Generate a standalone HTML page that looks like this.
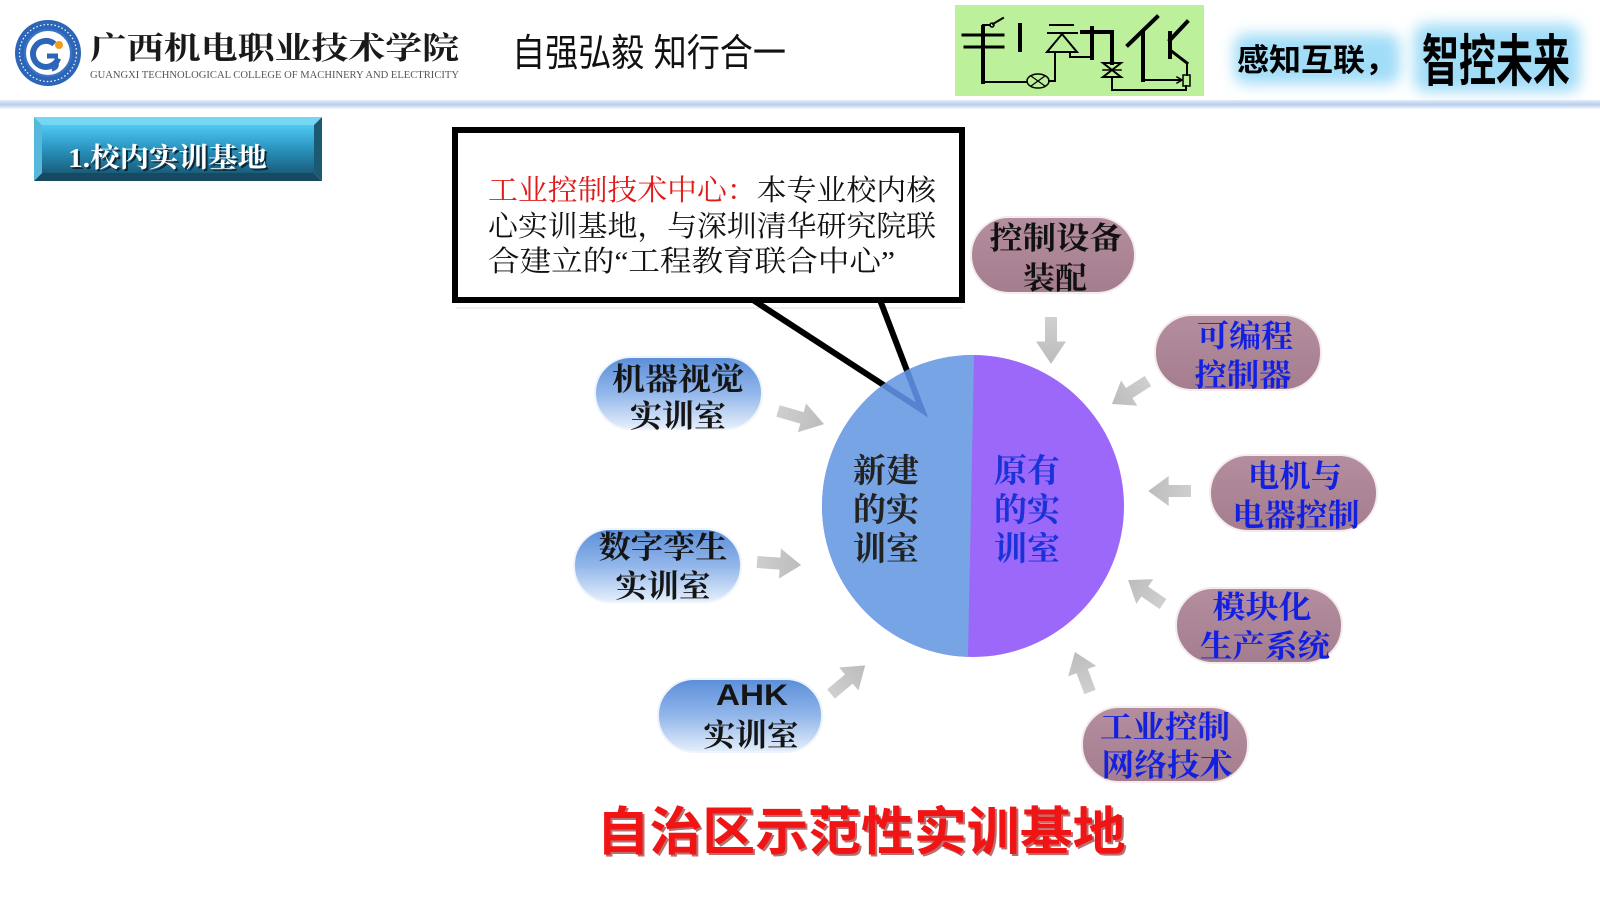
<!DOCTYPE html>
<html><head><meta charset="utf-8">
<style>
html,body{margin:0;padding:0;background:#fff;}
svg{display:block;}
.serif{font-family:"Liberation Serif","Noto Serif CJK SC",serif;}
.sans{font-family:"Liberation Sans","Noto Sans CJK SC",sans-serif;}
.pl{font-family:"Liberation Serif","Noto Serif CJK SC",serif;font-weight:bold;font-size:31px;text-anchor:middle;}
</style></head><body>
<svg width="1600" height="900" viewBox="0 0 1600 900" xmlns="http://www.w3.org/2000/svg">
<defs>
  <linearGradient id="hl" x1="0" y1="0" x2="0" y2="1">
    <stop offset="0" stop-color="#e3ecf8"/><stop offset="0.5" stop-color="#b9cdec"/><stop offset="1" stop-color="#f2f6fc"/>
  </linearGradient>
  <linearGradient id="tabface" x1="0" y1="0" x2="0" y2="1">
    <stop offset="0" stop-color="#4fc9f0"/><stop offset="0.5" stop-color="#2a93be"/><stop offset="1" stop-color="#1a5d7c"/>
  </linearGradient>
  <linearGradient id="pb" x1="0" y1="0" x2="0" y2="1">
    <stop offset="0" stop-color="#5b8ed8"/><stop offset="0.5" stop-color="#92b6ea"/><stop offset="1" stop-color="#e6effb"/>
  </linearGradient>
  <linearGradient id="pm" x1="0" y1="0" x2="0" y2="1">
    <stop offset="0" stop-color="#b48e9e"/><stop offset="1" stop-color="#a47d8e"/>
  </linearGradient>
  <linearGradient id="ag" x1="0" y1="0" x2="1" y2="0">
    <stop offset="0" stop-color="#cfcfcf"/><stop offset="1" stop-color="#bcbcbc"/>
  </linearGradient>
  <filter id="glow" x="-30%" y="-50%" width="160%" height="200%"><feGaussianBlur stdDeviation="7"/></filter>
  <clipPath id="cc"><circle cx="973" cy="506" r="151"/></clipPath>
  <path id="arr" d="M0,-6 L24,-6 L24,-15 L46,0 L24,15 L24,6 L0,6 Z"/>
</defs>

<!-- ===== Header ===== -->
<!-- logo -->
<g>
  <circle cx="48" cy="53" r="33" fill="#2d66b8"/>
  <circle cx="48" cy="53" r="28.5" fill="none" stroke="#ffffff" stroke-width="1.2" stroke-dasharray="1.5 2.2"/>
  <circle cx="48" cy="53" r="23" fill="#ffffff" stroke="#3a74c4" stroke-width="2"/>
  <path d="M54.4,44 A13,13 0 1 0 58.2,58.4" fill="none" stroke="#2d66b8" stroke-width="6"/>
  <line x1="58" y1="56" x2="47" y2="56" stroke="#2d66b8" stroke-width="5"/>
  <path d="M56,60 Q60,68 52,70" fill="none" stroke="#2d66b8" stroke-width="3"/>
  <circle cx="59" cy="45" r="4" fill="#f39a1e"/>
</g>
<text class="serif" x="90" y="59" font-size="31" font-weight="bold" fill="#1a1a1a" textLength="369" lengthAdjust="spacingAndGlyphs">广西机电职业技术学院</text>
<text class="serif" x="90" y="78" font-size="10.5" fill="#555" textLength="369" lengthAdjust="spacingAndGlyphs">GUANGXI TECHNOLOGICAL COLLEGE OF MACHINERY AND ELECTRICITY</text>

<text class="sans" x="512" y="66" font-size="38" fill="#111" textLength="274" lengthAdjust="spacingAndGlyphs">自强弘毅 知行合一</text>

<!-- 自动化 artwork -->
<g>
  <title>自动化</title>
  <rect x="955" y="5" width="249" height="91" fill="#bdf09a"/>
  <g stroke="#000" fill="none" stroke-linecap="square">
    <line x1="963" y1="35" x2="1003" y2="35" stroke-width="3"/>
    <line x1="965" y1="47" x2="1003" y2="47" stroke-width="3"/>
    <line x1="983" y1="27" x2="983" y2="82" stroke-width="4"/>
    <line x1="983" y1="82" x2="1027" y2="82" stroke-width="2"/>
    <line x1="983" y1="25" x2="990" y2="25" stroke-width="2"/>
    <circle cx="992" cy="25" r="2" stroke-width="1.5"/>
    <line x1="993" y1="24" x2="1003" y2="18" stroke-width="2"/>
    <line x1="1020" y1="25" x2="1020" y2="50" stroke-width="4"/>
    <ellipse cx="1038" cy="81" rx="11" ry="7" stroke-width="1.5"/>
    <line x1="1031" y1="76" x2="1045" y2="86" stroke-width="1.2"/>
    <line x1="1031" y1="86" x2="1045" y2="76" stroke-width="1.2"/>
    <polyline points="1049,81 1055,81 1055,52" stroke-width="2"/>
    <line x1="1050" y1="25" x2="1073" y2="25" stroke-width="2"/>
    <line x1="1048" y1="33" x2="1077" y2="33" stroke-width="2"/>
    <polygon points="1047,52 1077,52 1062,34" stroke-width="2"/>
    <polyline points="1070,52 1070,57 1092,57" stroke-width="2"/>
    <line x1="1082" y1="32" x2="1112" y2="32" stroke-width="4"/>
    <line x1="1092" y1="28" x2="1092" y2="58" stroke-width="4"/>
    <line x1="1112" y1="32" x2="1112" y2="63" stroke-width="4"/>
    <path d="M1103,63 L1121,63 L1112,70 Z M1103,77 L1121,77 L1112,70 Z" stroke-width="2"/>
    <line x1="1103" y1="70" x2="1121" y2="70" stroke-width="1.5"/>
    <polyline points="1112,77 1112,90 1186,90 1186,86" stroke-width="2"/>
    <line x1="1157" y1="17" x2="1128" y2="45" stroke-width="4"/>
    <line x1="1143" y1="32" x2="1143" y2="80" stroke-width="4"/>
    <line x1="1143" y1="80" x2="1181" y2="80" stroke-width="2"/>
    <polyline points="1177,77 1182,80 1177,83" stroke-width="1.5"/>
    <line x1="1170" y1="33" x2="1170" y2="57" stroke-width="4"/>
    <line x1="1170" y1="40" x2="1187" y2="22" stroke-width="4"/>
    <line x1="1170" y1="50" x2="1187" y2="63" stroke-width="3"/>
    <line x1="1187" y1="63" x2="1187" y2="75" stroke-width="2"/>
    <rect x="1183" y="75" width="7" height="11" stroke-width="1.5"/>
  </g>
</g>

<!-- slogan -->
<rect x="1234" y="34" width="166" height="50" rx="12" fill="#a2ddf8" filter="url(#glow)"/>
<rect x="1414" y="24" width="166" height="68" rx="12" fill="#a2ddf8" filter="url(#glow)"/>
<text class="sans" x="1237" y="71" font-size="31" font-weight="bold" fill="#000" textLength="160" lengthAdjust="spacingAndGlyphs">感知互联，</text>
<text class="sans" x="1422" y="81" font-size="56" font-weight="bold" fill="#000" textLength="148" lengthAdjust="spacingAndGlyphs">智控未来</text>

<!-- header separator -->
<rect x="0" y="100" width="1600" height="9" fill="url(#hl)"/>

<!-- ===== Section tab ===== -->
<polygon points="34,117 322,117 314,125 42,125" fill="#74d8f5"/>
<polygon points="34,117 42,125 42,173 34,181" fill="#56b8dc"/>
<polygon points="322,117 322,181 314,173 314,125" fill="#1c5a73"/>
<polygon points="34,181 322,181 314,173 42,173" fill="#164a60"/>
<rect x="42" y="125" width="272" height="48" fill="url(#tabface)"/>
<text class="serif" x="70" y="169" font-size="27" font-weight="bold" fill="#0b2a3a" textLength="199" lengthAdjust="spacingAndGlyphs">1.校内实训基地</text>
<text class="serif" x="68" y="167" font-size="27" font-weight="bold" fill="#ffffff" textLength="199" lengthAdjust="spacingAndGlyphs">1.校内实训基地</text>

<!-- ===== Callout ===== -->
<line x1="456" y1="308" x2="962" y2="308" stroke="#ececec" stroke-width="1.5"/>
<polyline points="753,300 922,410" fill="none" stroke="#000" stroke-width="6"/>
<polyline points="880,300 922,410" fill="none" stroke="#000" stroke-width="6"/>
<rect x="455" y="130" width="507" height="170" fill="#fff" stroke="#000" stroke-width="6"/>
<text class="serif" x="488" y="200" font-size="29" fill="#111" textLength="448" lengthAdjust="spacingAndGlyphs"><tspan fill="#e01b1b">工业控制技术中心：</tspan>本专业校内核</text>
<text class="serif" x="488" y="236" font-size="29" fill="#111" textLength="448" lengthAdjust="spacingAndGlyphs">心实训基地，与深圳清华研究院联</text>
<text class="serif" x="488" y="271" font-size="29" fill="#111" textLength="407" lengthAdjust="spacingAndGlyphs">合建立的“工程教育联合中心”</text>

<!-- ===== Central circle ===== -->
<circle cx="973" cy="506" r="151" fill="#9b68f9"/>
<polygon points="800,340 974.3,340 967.7,672 800,672" fill="#76a4e5" clip-path="url(#cc)"/>
<g clip-path="url(#cc)">
  <polyline points="753,300 922,410 880,300" fill="none" stroke="#5683d0" stroke-width="6"/>
</g>
<text class="pl" x="886" y="482" font-size="33" fill="#222" textLength="66" lengthAdjust="spacingAndGlyphs" style="font-size:33px">新建</text>
<text class="pl" x="886" y="521" fill="#222" textLength="66" lengthAdjust="spacingAndGlyphs" style="font-size:33px">的实</text>
<text class="pl" x="886" y="560" fill="#222" textLength="66" lengthAdjust="spacingAndGlyphs" style="font-size:33px">训室</text>
<text class="pl" x="1027" y="482" fill="#1a33d8" textLength="66" lengthAdjust="spacingAndGlyphs" style="font-size:33px">原有</text>
<text class="pl" x="1027" y="521" fill="#1a33d8" textLength="66" lengthAdjust="spacingAndGlyphs" style="font-size:33px">的实</text>
<text class="pl" x="1027" y="560" fill="#1a33d8" textLength="66" lengthAdjust="spacingAndGlyphs" style="font-size:33px">训室</text>

<!-- ===== Arrows ===== -->
<g fill="url(#ag)">
  <use href="#arr" transform="translate(1051,317) rotate(90) scale(1.02,1)"/>
  <use href="#arr" transform="translate(1148,381) rotate(147.4) scale(0.93,1)"/>
  <use href="#arr" transform="translate(1191,491) rotate(180) scale(0.93,1)"/>
  <use href="#arr" transform="translate(1163,604) rotate(214.4) scale(0.92,1)"/>
  <use href="#arr" transform="translate(1090,692) rotate(249.4) scale(0.93,1)"/>
  <use href="#arr" transform="translate(778,411) rotate(16) scale(1.04,1)"/>
  <use href="#arr" transform="translate(757,562) rotate(4) scale(0.96,1)"/>
  <use href="#arr" transform="translate(831,694) rotate(-40) scale(0.97,1)"/>
</g>

<!-- ===== Left pills (blue) ===== -->
<rect x="595" y="357" width="167" height="72" rx="36" fill="url(#pb)" stroke="#eef4fc" stroke-width="2"/>
<text class="pl" x="678" y="390" fill="#151515" textLength="132" lengthAdjust="spacingAndGlyphs">机器视觉</text>
<text class="pl" x="678" y="427" fill="#151515" textLength="96" lengthAdjust="spacingAndGlyphs">实训室</text>

<rect x="574" y="529" width="167" height="73" rx="36" fill="url(#pb)" stroke="#eef4fc" stroke-width="2"/>
<text class="pl" x="663" y="558" fill="#151515" textLength="129" lengthAdjust="spacingAndGlyphs">数字孪生</text>
<text class="pl" x="663" y="597" fill="#151515" textLength="95" lengthAdjust="spacingAndGlyphs">实训室</text>

<rect x="658" y="679" width="164" height="73" rx="36" fill="url(#pb)" stroke="#eef4fc" stroke-width="2"/>
<text class="sans" x="752" y="705" font-size="30" font-weight="bold" fill="#151515" text-anchor="middle" textLength="72" lengthAdjust="spacingAndGlyphs">AHK</text>
<text class="pl" x="751" y="746" fill="#151515" textLength="95" lengthAdjust="spacingAndGlyphs">实训室</text>

<!-- ===== Right pills (mauve) ===== -->
<rect x="971" y="217" width="164" height="76" rx="38" fill="url(#pm)" stroke="#f3ebee" stroke-width="2"/>
<text class="pl" x="1056" y="249" fill="#111" textLength="133" lengthAdjust="spacingAndGlyphs">控制设备</text>
<text class="pl" x="1055" y="289" fill="#111" textLength="64" lengthAdjust="spacingAndGlyphs">装配</text>

<rect x="1155" y="315" width="166" height="75" rx="37" fill="url(#pm)" stroke="#f3ebee" stroke-width="2"/>
<text class="pl" x="1245" y="347" fill="#1420e0" textLength="96" lengthAdjust="spacingAndGlyphs">可编程</text>
<text class="pl" x="1243" y="386" fill="#1420e0" textLength="97" lengthAdjust="spacingAndGlyphs">控制器</text>

<rect x="1210" y="455" width="167" height="76" rx="38" fill="url(#pm)" stroke="#f3ebee" stroke-width="2"/>
<text class="pl" x="1295" y="487" fill="#1420e0" textLength="94" lengthAdjust="spacingAndGlyphs">电机与</text>
<text class="pl" x="1296" y="526" fill="#1420e0" textLength="127" lengthAdjust="spacingAndGlyphs">电器控制</text>

<rect x="1176" y="588" width="166" height="75" rx="37" fill="url(#pm)" stroke="#f3ebee" stroke-width="2"/>
<text class="pl" x="1262" y="618" fill="#1420e0" textLength="99" lengthAdjust="spacingAndGlyphs">模块化</text>
<text class="pl" x="1265" y="657" fill="#1420e0" textLength="130" lengthAdjust="spacingAndGlyphs">生产系统</text>

<rect x="1082" y="707" width="166" height="75" rx="37" fill="url(#pm)" stroke="#f3ebee" stroke-width="2"/>
<text class="pl" x="1165" y="738" fill="#1420e0" textLength="130" lengthAdjust="spacingAndGlyphs">工业控制</text>
<text class="pl" x="1167" y="776" fill="#1420e0" textLength="131" lengthAdjust="spacingAndGlyphs">网络技术</text>

<!-- ===== Bottom title ===== -->
<text class="sans" x="863" y="852" font-size="52" font-weight="bold" fill="#8a1010" text-anchor="middle" textLength="529" lengthAdjust="spacingAndGlyphs" opacity="0.6">自治区示范性实训基地</text>
<text class="sans" x="861" y="850" font-size="52" font-weight="bold" fill="#f01414" text-anchor="middle" textLength="529" lengthAdjust="spacingAndGlyphs">自治区示范性实训基地</text>
</svg>
</body></html>
